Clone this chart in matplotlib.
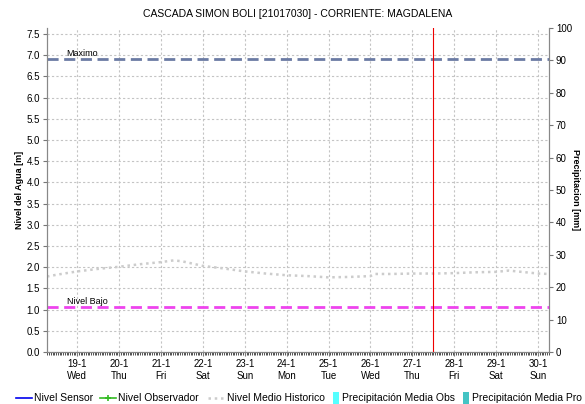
import matplotlib
matplotlib.use("Agg")
import matplotlib.pyplot as plt
from matplotlib.lines import Line2D
from matplotlib.patches import Rectangle
import numpy as np

plt.rcParams['font.family'] = ['Liberation Sans', 'DejaVu Sans']

title = "CASCADA SIMON BOLI [21017030] - CORRIENTE: MAGDALENA"
day_ticks = [19, 20, 21, 22, 23, 24, 25, 26, 27, 28, 29, 30]
day_names = ["Wed", "Thu", "Fri", "Sat", "Sun", "Mon", "Tue", "Wed", "Thu", "Fri", "Sat", "Sun"]
tick_labels = [f"{d}-1\n{n}" for d, n in zip(day_ticks, day_names)]

hist_x = [18.28, 18.5, 19.0, 19.5, 20.0, 20.5, 21.0, 21.3, 21.5, 22.0, 22.5, 23.0, 23.5,
          24.0, 24.5, 25.0, 25.5, 26.0, 26.1, 26.5, 27.0, 27.5, 28.0, 28.5, 29.0, 29.3,
          29.5, 30.0, 30.26]
hist_y = [1.78, 1.82, 1.90, 1.96, 2.01, 2.07, 2.12, 2.16, 2.14, 2.03, 1.97, 1.90, 1.85,
          1.81, 1.79, 1.76, 1.77, 1.79, 1.84, 1.84, 1.85, 1.85, 1.86, 1.88, 1.89, 1.92,
          1.90, 1.85, 1.84]

nivel_maximo = 6.9
nivel_bajo = 1.05
now_x = 27.5
x_min, x_max = 18.28, 30.26
y_max = 7.64

legend_labels = ["Nivel Sensor", "Nivel Observador", "Nivel Medio Historico",
                 "Precipitación Media Obs", "Precipitación Media Pro"]

W, H = 585, 404
fig = plt.figure(figsize=(5.85, 4.04), dpi=100)
ax = fig.add_axes([0.0803, 0.1287, 0.8582, 0.802])

ax.plot(hist_x, hist_y, color='#CCCCCC', lw=1.8, linestyle=(0, (1, 1.5)), zorder=3)
ax.axhline(nivel_maximo, color='#6B7BA4', lw=2, linestyle=(0, (4, 2)), zorder=4)
ax.axhline(nivel_bajo, color='#EE44EE', lw=2, linestyle=(0, (4, 2)), zorder=4)
ax.axvline(now_x, color='#EE0000', lw=0.8, zorder=5)

ax.set_yticks(np.arange(0, 7.51, 0.5))
ax.set_yticklabels([f"{v:.1f}" for v in np.arange(0, 7.51, 0.5)])
ax.set_xticks(day_ticks)
ax.set_xticklabels(tick_labels, fontsize=7, linespacing=1.25)
ax.set_xticks(np.arange(18.0, 30.3, 1 / 24), minor=True)
ax.set_xlim(x_min, x_max)
ax.set_ylim(0, y_max)
ax.text(18.75, nivel_maximo + 0.03, "Maximo", fontsize=6.5, va='bottom', ha='left')
ax.text(18.75, nivel_bajo + 0.03, "Nivel Bajo", fontsize=6.5, va='bottom', ha='left')
ax.tick_params(axis='x', which='minor', length=2, width=0.6, color='#333333')
ax.tick_params(axis='both', which='major', labelsize=7, length=3, width=0.8, color='#777777', pad=2)
ax.grid(True, which='major', color='#C4C4C4', lw=0.8, linestyle=(0, (2, 2)))
for s in ax.spines.values():
    s.set_color('#888888')
ax.spines['top'].set_visible(False)
ax.set_ylabel("Nivel del Agua [m]", fontsize=6.5, fontweight='bold', labelpad=2)
ax.set_title(title, fontsize=7.5, pad=8)

ax2 = ax.twinx()
ax2.set_yticks(np.arange(0, 101, 10))
ax2.set_ylim(0, 100)
ax2.tick_params(axis='y', labelsize=7, length=3, width=0.8, color='#777777', pad=2)
for s in ax2.spines.values():
    s.set_color('#888888')
ax2.spines['top'].set_visible(False)
ax2.set_ylabel("Precipitacion [mm]", fontsize=6.5, fontweight='bold', rotation=-90, labelpad=6)

# legend drawn manually (pixel positions of the reference layout)
ly = 1 - 398 / H
def fx(px):
    return px / W
tf = fig.transFigure
fig.add_artist(Line2D([fx(16), fx(32)], [ly, ly], color='#0000EE', lw=1.2, transform=tf))
fig.add_artist(Line2D([fx(100), fx(116)], [ly, ly], color='#33BB22', lw=1.2, transform=tf))
fig.add_artist(Line2D([fx(108)], [ly], color='#33BB22', marker='+', markersize=4,
                      markeredgewidth=1.2, transform=tf))
fig.add_artist(Line2D([fx(208), fx(224)], [ly, ly], color='#CCCCCC', lw=1.8,
                      linestyle=(0, (1, 1.5)), transform=tf))
fig.add_artist(Rectangle((fx(333), ly - 6 / H), 6 / W, 12 / H, facecolor='#55FFFF',
                         edgecolor='none', transform=tf))
fig.add_artist(Rectangle((fx(463), ly - 6 / H), 6 / W, 12 / H, facecolor='#44C4C4',
                         edgecolor='none', transform=tf))
for xpix, lab in zip([34, 118, 227, 342, 472], legend_labels):
    fig.text(fx(xpix), ly, lab, fontsize=7.5, va='center', ha='left')

fig.savefig("out.png", dpi=100)
